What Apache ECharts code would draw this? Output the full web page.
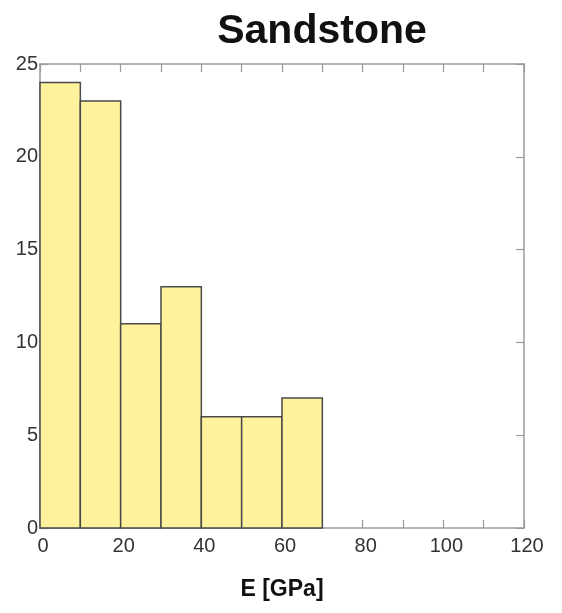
<!DOCTYPE html>
<html>
<head>
<meta charset="utf-8">
<script src="https://cdn.jsdelivr.net/npm/echarts@6/dist/echarts.min.js"></script>
<style>
html,body{margin:0;padding:0;background:#fff;}
#c{width:562px;height:613px;}
</style>
</head>
<body>
<div id="c"></div>
<script>
var binStarts = [0, 10, 20, 30, 40, 50, 60];
var binWidth = 10;
var counts = [24, 23, 11, 13, 6, 6, 7];
var xTicks = [0, 20, 40, 60, 80, 100, 120];
var yTicks = [0, 5, 10, 15, 20, 25];
var titleText = 'Sandstone';
var xName = 'E [GPa]';

var data = binStarts.map(function (s, i) { return [s, s + binWidth, counts[i]]; });
var font = 'Liberation Sans, Arial, Helvetica, sans-serif';
var axisColor = '#9a9a9a';

function axisCommon(extra) {
  var a = {
    show: true,
    axisLine: { show: true, onZero: false, lineStyle: { color: axisColor, width: 1.5 } },
    axisTick: { show: true, inside: true, length: 8, lineStyle: { color: axisColor, width: 1.2 } },
    splitLine: { show: false }
  };
  for (var k in extra) a[k] = extra[k];
  return a;
}

var chart = echarts.init(document.getElementById('c'));
chart.setOption({
  animation: false,
  backgroundColor: '#fff',
  title: {
    text: titleText,
    left: 317, top: 6, textAlign: 'center',
    textStyle: { fontFamily: font, fontWeight: 'bold', fontSize: 41, color: '#111' }
  },
  grid: { left: 40, right: 38, top: 64, bottom: 85 },
  xAxis: [
    axisCommon({
      type: 'value', position: 'bottom', min: 0, max: 120, interval: 10,
      name: xName, nameLocation: 'middle', nameGap: 50,
      nameTextStyle: { fontFamily: font, fontWeight: 'bold', fontSize: 23, color: '#111' },
      axisLabel: {
        fontFamily: font, fontSize: 20, color: '#333', margin: 8, padding: [0, 0, 0, 6],
        formatter: function (v) { return xTicks.indexOf(v) >= 0 ? String(v) : ''; }
      }
    }),
    axisCommon({
      type: 'value', position: 'top', min: 0, max: 120, interval: 10,
      axisLabel: { show: false }
    })
  ],
  yAxis: [
    axisCommon({
      type: 'value', position: 'left', min: 0, max: 25, interval: 5,
      axisLabel: {
        fontFamily: font, fontSize: 20, color: '#333', margin: 2, padding: [0, 0, 6, 0],
        formatter: function (v) { return yTicks.indexOf(v) >= 0 ? String(v) : ''; }
      }
    }),
    axisCommon({
      type: 'value', position: 'right', min: 0, max: 25, interval: 5,
      axisLabel: { show: false }
    })
  ],
  series: [{
    type: 'custom',
    xAxisIndex: 0, yAxisIndex: 0,
    data: data,
    encode: { x: [0, 1], y: 2 },
    renderItem: function (params, api) {
      var p0 = api.coord([api.value(0), 0]);
      var p1 = api.coord([api.value(1), api.value(2)]);
      return {
        type: 'rect',
        shape: { x: p0[0], y: p1[1], width: p1[0] - p0[0], height: p0[1] - p1[1] },
        style: { fill: '#fff29c', stroke: '#4a4a4a', lineWidth: 1.5 }
      };
    }
  }, {
    type: 'line', xAxisIndex: 1, yAxisIndex: 1, data: [], silent: true
  }]
});
</script>
</body>
</html>
